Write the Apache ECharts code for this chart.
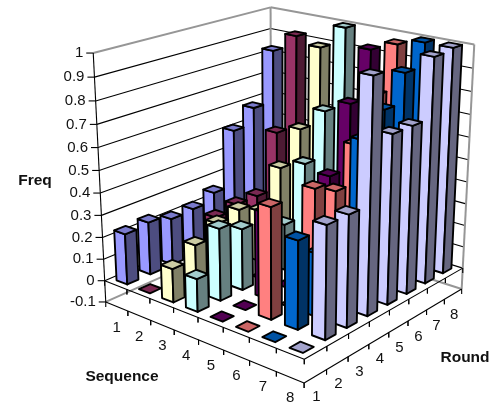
<!DOCTYPE html>
<html><head><meta charset="utf-8">
<style>html,body{margin:0;padding:0;background:#fff}#c{width:493px;height:408px}</style>
<script src="https://cdn.jsdelivr.net/npm/echarts@6/dist/echarts.min.js"></script>
</head><body><div id="c"></div>
<script>
var sequences = ['1','2','3','4','5','6','7','8'];
var rounds = ['1','2','3','4','5','6','7','8'];
var freqTicks = [-0.1,0,0.1,0.2,0.3,0.4,0.5,0.6,0.7,0.8,0.9,1];
var seq1 = [0.23,0.24,0.214,0.22,0.257,0.515,0.59,0.83];
var seq2 = [0,0,0,0.215,0.235,0.235,0.50,0.92];
var seq3 = [0.15,0.21,0.265,0.285,0.237,0.40,0.545,0.89];
var seq4 = [0.145,0.32,0.275,0,0.21,0.45,0.655,1];
var seq5 = [0,0,0.38,0,0,0.425,0.715,0.925];
var seq6 = [0,0.483,0,0.48,0.43,0.595,0.78,0.97];
var seq7 = [0,0.38,0.275,0.3,0.68,0.775,0.90,1];
var seq8 = [0,0.48,0.48,1,0.735,0.735,0.99,1];
var seqValues = [seq1,seq2,seq3,seq4,seq5,seq6,seq7,seq8];
var seqColors = ['#9999FF','#993366','#FFFFCC','#CCFFFF','#660066','#FF8080','#0066CC','#CCCCFF'];

// camera calibration: box corners (s, r, height above floor) -> image
var cameraAnchors = [
 [0,0,0,106,302],[8,0,0,304,383],[8,8,0,462,288],[0,8,0,270.5,229],
 [0,0,1.1,93,53],[0,8,1.1,271,7],[8,8,1.1,474,45],[8,0,0.1,304,360],[0,0,0.1,105,280],[8,8,0.1,463,268]
];
function solveCamera(a){
  var n=11,M=[],b=[],i,j,k;
  for(i=0;i<n;i++){M.push(new Array(n).fill(0));b.push(0);}
  function add(r,v){for(var i=0;i<n;i++){b[i]+=r[i]*v;for(var j=0;j<n;j++)M[i][j]+=r[i]*r[j];}}
  a.forEach(function(p){
    add([p[0],p[1],p[2],1,0,0,0,0,-p[3]*p[0],-p[3]*p[1],-p[3]*p[2]],p[3]);
    add([0,0,0,0,p[0],p[1],p[2],1,-p[4]*p[0],-p[4]*p[1],-p[4]*p[2]],p[4]);
  });
  for(i=0;i<n;i++){
    var m=i;for(k=i+1;k<n;k++)if(Math.abs(M[k][i])>Math.abs(M[m][i]))m=k;
    var t=M[i];M[i]=M[m];M[m]=t;t=b[i];b[i]=b[m];b[m]=t;
    for(k=i+1;k<n;k++){var f=M[k][i]/M[i][i];for(j=i;j<n;j++)M[k][j]-=f*M[i][j];b[k]-=f*b[i];}
  }
  var x=new Array(n);
  for(i=n-1;i>=0;i--){var s=b[i];for(j=i+1;j<n;j++)s-=M[i][j]*x[j];x[i]=s/M[i][i];}
  return x;
}
var P = solveCamera(cameraAnchors);
function project(s,r,h){
  var w=P[8]*s+P[9]*r+P[10]*h+1;
  return [(P[0]*s+P[1]*r+P[2]*h+P[3])/w,(P[4]*s+P[5]*r+P[6]*h+P[7])/w];
}
function levelOf(v){return v+0.1;}
var floorLevel=freqTicks[0], topLevel=freqTicks[freqTicks.length-1];
var barHalf=0.24;
var FONT='"Liberation Sans",Arial,sans-serif', FS=15;

function shade(hex,k){
  var n=parseInt(hex.slice(1),16);
  return 'rgb('+Math.round((n>>16&255)*k)+','+Math.round((n>>8&255)*k)+','+Math.round((n&255)*k)+')';
}

// bars: far to near
var barData=[];
seqValues.forEach(function(vals,si){vals.forEach(function(v,ri){barData.push([si,ri,v]);});});
barData.sort(function(a,b){return (a[0]-a[1])-(b[0]-b[1]);});

// frame lines: [s0,r0,level0,s1,r1,level1,kind]
var frame=[];
freqTicks.forEach(function(v){
  if(v===floorLevel)return;
  var kind=(v===topLevel)?1:0;
  frame.push([0,0,v,0,8,v,kind]);
  frame.push([0,8,v,8,8,v,kind]);
});
frame.push([0,0,floorLevel,0,8,floorLevel,1]);
frame.push([0,8,floorLevel,8,8,floorLevel,1]);
frame.push([0,8,floorLevel,0,8,topLevel,1]);
frame.push([8,8,floorLevel,8,8,topLevel,1]);
var front=[];
[floorLevel,0].forEach(function(v){
  front.push([0,0,v,8,0,v,0]);
  front.push([8,0,v,8,8,v,0]);
});
front.push([0,0,floorLevel,0,0,topLevel,0]);

var ticks=[];
var labels=[];
sequences.forEach(function(t,i){
  [floorLevel,0].forEach(function(v){ticks.push([i,0,v,0,5]);ticks.push([i+1,0,v,0,5]);});
  labels.push({p:[i+0.5,0,floorLevel],dx:0,dy:21,text:t,align:'center'});
});
rounds.forEach(function(t,i){
  [floorLevel,0].forEach(function(v){ticks.push([8,i,v,0,5]);ticks.push([8,i+1,v,0,5]);});
  labels.push({p:[8,i+0.5,floorLevel],dx:1,dy:21,text:t,align:'center'});
});
freqTicks.forEach(function(v){
  ticks.push([0,0,v,-7,0]);
  labels.push({p:[0,0,v],dx:-10,dy:0,text:String(v),align:'right'});
});
var titles=[['Freq',35,181],['Sequence',122,377],['Round',465,358]];

function seg(api,l,style){
  var a=api.coord(project(l[0],l[1],levelOf(l[2])));
  var b=api.coord(project(l[3],l[4],levelOf(l[5])));
  return {type:'line',shape:{x1:a[0],y1:a[1],x2:b[0],y2:b[1]},style:style};
}
var blackLine={stroke:'#000',lineWidth:1.1};
var grayLine={stroke:'#969696',lineWidth:2};

function renderFrame(p,api){var l=frame[api.value(0)];return seg(api,l,l[6]?grayLine:blackLine);}
function renderFront(p,api){return seg(api,front[api.value(0)],blackLine);}
function renderTick(p,api){
  var t=ticks[api.value(0)],a=api.coord(project(t[0],t[1],levelOf(t[2])));
  return {type:'line',shape:{x1:a[0],y1:a[1],x2:a[0]+t[3],y2:a[1]+t[4]},style:blackLine};
}
function renderLabel(p,api){
  var t=labels[api.value(0)],a=api.coord(project(t.p[0],t.p[1],levelOf(t.p[2])));
  return {type:'text',style:{text:t.text,x:a[0]+t.dx,y:a[1]+t.dy,align:t.align,verticalAlign:'middle',font:FS+'px '+FONT,fill:'#111'}};
}
function renderTitle(p,api){
  var t=titles[api.value(0)],a=api.coord([t[1],t[2]]);
  return {type:'text',style:{text:t[0],x:a[0],y:a[1],align:'center',verticalAlign:'middle',font:'bold 15.5px '+FONT,fill:'#111'}};
}
function renderBar(p,api){
  var si=api.value(0),ri=api.value(1),v=api.value(2),c=seqColors[si];
  var s0=si+0.5-barHalf,s1=si+0.5+barHalf,r0=ri+0.5-barHalf,r1=ri+0.5+barHalf;
  var hb=levelOf(0),ht=levelOf(v);
  function q(s,r,h){return api.coord(project(s,r,h));}
  function poly(pts,fill){return {type:'polygon',shape:{points:pts},style:{fill:fill,stroke:'#000',lineWidth:1.9,lineJoin:'round'}};}
  var kids=[];
  if(v>0){
    kids.push(poly([q(s0,r0,hb),q(s1,r0,hb),q(s1,r0,ht),q(s0,r0,ht)],c));
    kids.push(poly([q(s1,r0,hb),q(s1,r1,hb),q(s1,r1,ht),q(s1,r0,ht)],shade(c,0.5)));
  }
  kids.push(poly([q(s0,r0,ht),q(s1,r0,ht),q(s1,r1,ht),q(s0,r1,ht)],shade(c,0.8)));
  return {type:'group',children:kids};
}
function idx(a){return a.map(function(_,i){return [i];});}
function custom(name,data,fn,z){
  return {name:name,type:'custom',coordinateSystem:'cartesian2d',data:data,renderItem:fn,clip:false,silent:true,z:z,animation:false,encode:{x:0,y:0},tooltip:{show:false}};
}
var chart=echarts.init(document.getElementById('c'),null,{renderer:'canvas'});
chart.setOption({
  animation:false,
  backgroundColor:'#fff',
  grid:{left:0,right:0,top:0,bottom:0},
  xAxis:{type:'value',min:0,max:493,show:false},
  yAxis:{type:'value',min:0,max:408,inverse:true,show:false},
  series:[
    custom('frame',idx(frame),renderFrame,1),
    custom('front',idx(front),renderFront,2),
    custom('ticks',idx(ticks),renderTick,2),
    custom('labels',idx(labels),renderLabel,2),
    custom('titles',idx(titles),renderTitle,2),
    custom('Freq',barData,renderBar,3)
  ]
});
</script></body></html>
